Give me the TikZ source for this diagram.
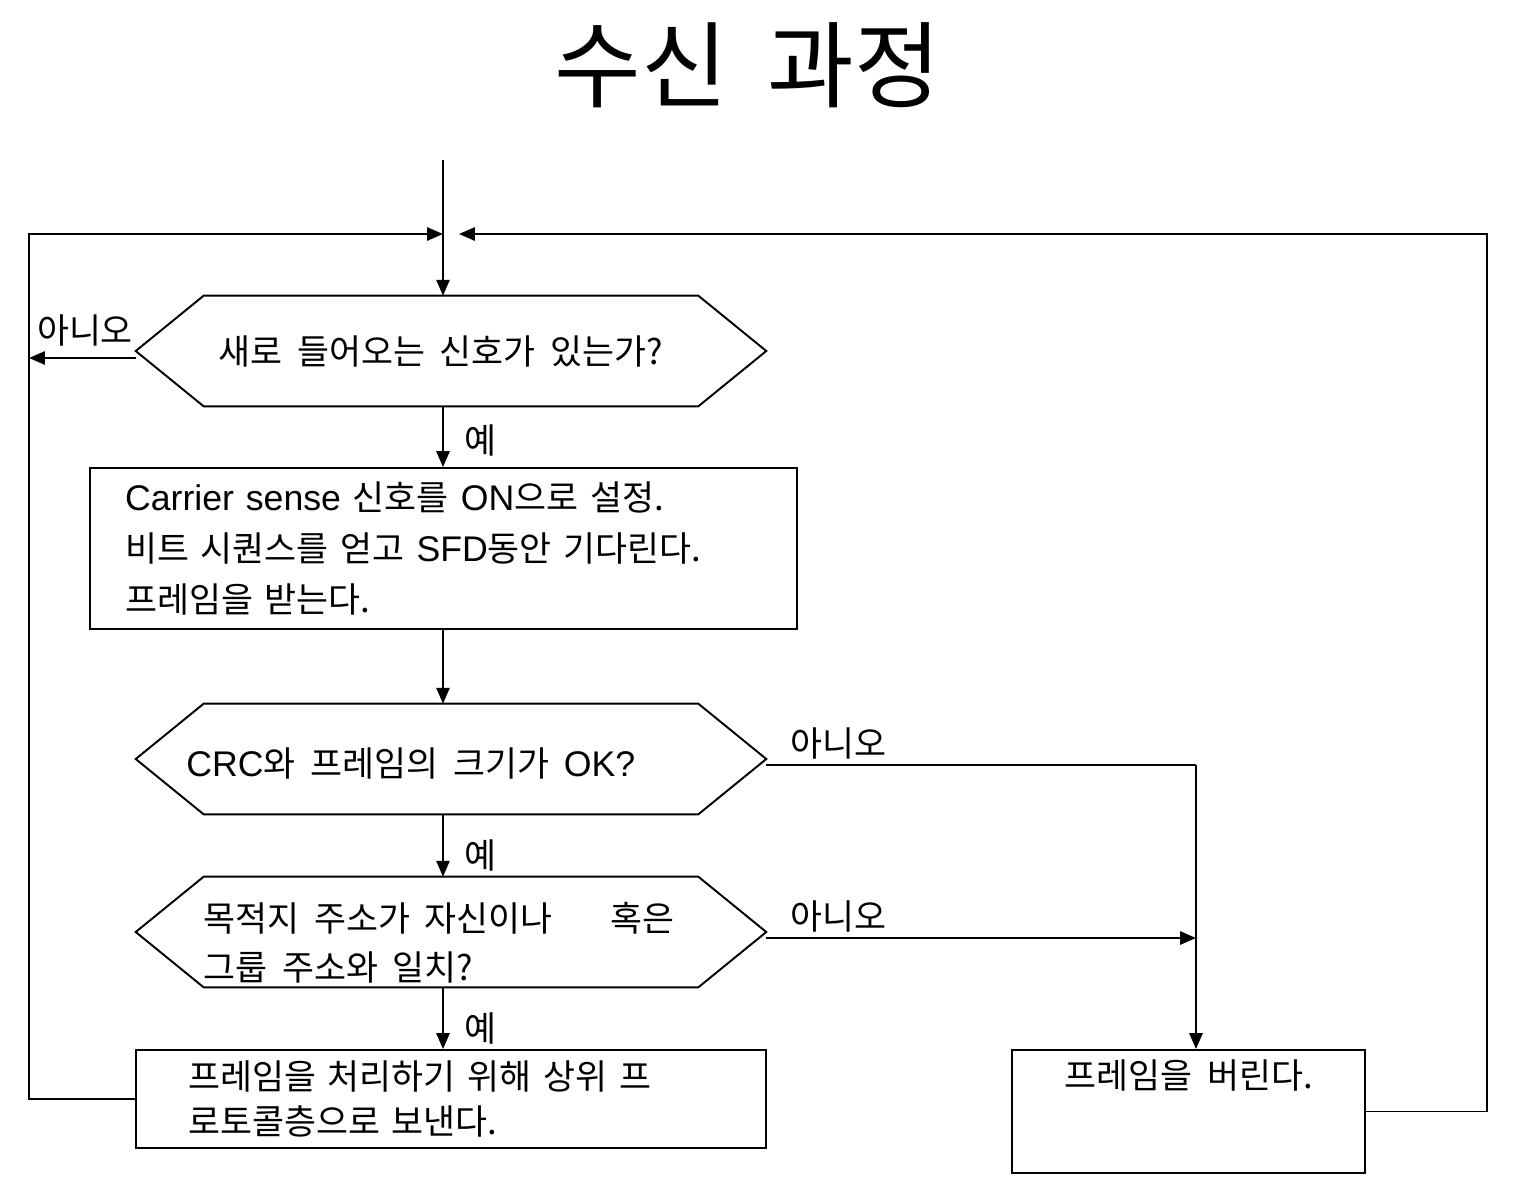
\documentclass[tikz,border=0pt]{standalone}
\usepackage{fontspec}
\setmainfont{Liberation Sans}
\newfontfamily\krf{Noto Sans CJK KR}[Scale=0.975,WordSpace=1.9]
\newcommand{\hg}[1]{{\krf #1}}
\usetikzlibrary{arrows.meta}
\begin{document}
\begin{tikzpicture}[x={(0.02cm,0)},y={(0,-0.02cm)},
  ln/.style={line width=1.1pt},
  arr/.style={line width=1.1pt,-{Triangle[length=9pt,width=7.5pt]}},
  body/.style={font=\fontsize{20.3}{28}\selectfont},
  lbl/.style={font=\fontsize{20.3}{22}\selectfont, inner sep=0},
  hexarea/.style={rectangle, inner sep=0, minimum width=12.6cm, minimum height=2.2cm},
  box/.style={draw, rectangle, line width=1.1pt, body},
  txt/.style={body, anchor=west, inner sep=0, align=left}]
\useasboundingbox (0,0) rectangle (1516,1194);

\node[font=\fontsize{55}{60}\selectfont, inner sep=0] (title) at (748,65) {\hg{수신 과정}};

% named coordinates
\coordinate (start) at (443,160);
\coordinate (spine) at (443,0);
\coordinate (lc) at (29,234);
\coordinate (join) at (443,234);
\coordinate (rc) at (1487,234);
\coordinate (joinR) at (459,234);
\coordinate (lexit) at (29,358);
\coordinate (r2) at (1196,765);
\coordinate (r3) at (1196,938);

% decision areas
\node[hexarea] (h1) at (451,351) {};
\node[hexarea] (h2) at (451,759) {};
\node[hexarea] (h3) at (451,932) {};
\foreach \h in {h1,h2,h3}{
  \draw[ln] ([xshift=1.36cm]\h.north west) -- ([xshift=-1.36cm]\h.north east) -- (\h.east)
    -- ([xshift=-1.36cm]\h.south east) -- ([xshift=1.36cm]\h.south west) -- (\h.west) -- cycle;
}
\node[txt] (t1) at (218,351) {\hg{새로 들어오는 신호가 있는가?}};
\node[txt] (t2) at (186,763) {CRC\hg{와 프레임의 크기가 }OK?};
\node[txt] (t3) at (203,943)
  {\hg{목적지 주소가 자신이나\hspace{1.15cm}혹은}\\\hg{그룹 주소와 일치?}};

% boxes
\node[box, inner xsep=0.7cm, text width=12.74cm, minimum height=3.22cm, align=left,
  font=\fontsize{20.3}{29}\selectfont] (b1) at (443.5,548.5)
  {Carrier sense\hg{ 신호를 }ON\hg{으로 설정.}\\\hg{비트 시퀀스를 얻고 }SFD\hg{동안 기다린다.}\\\hg{프레임을 받는다.}};
\node[box, inner xsep=1.04cm, text width=10.52cm, minimum height=1.96cm, align=left,
  font=\fontsize{20.3}{25.5}\selectfont] (b2) at (451,1099)
  {\hg{프레임을 처리하기 위해 상위 프}\\\hg{로토콜층으로 보낸다.}};
\node[box, inner sep=0, minimum width=7.06cm, minimum height=2.46cm, align=center] (b3) at (1188.5,1111.5)
  {\hg{프레임을 버린다.}\\[0.5cm]};

% labels
\node[lbl] (n1) at (85,330) {\hg{아니오}};
\node[lbl] (n2) at (838,743) {\hg{아니오}};
\node[lbl] (n3) at (838,916) {\hg{아니오}};
\node[lbl] (y1) at (480,440) {\hg{예}};
\node[lbl] (y2) at (480,855) {\hg{예}};
\node[lbl] (y3) at (480,1028) {\hg{예}};

% connectors
\draw[arr] (start) -- (h1.north -| spine);
\draw[arr] (h1.south -| spine) -- (b1.north -| spine);
\draw[arr] (b1.south -| spine) -- (h2.north -| spine);
\draw[arr] (h2.south -| spine) -- (h3.north -| spine);
\draw[arr] (h3.south -| spine) -- (b2.north -| spine);
\draw[arr] (h1.west |- lexit) -- (lexit);
\draw[ln] (h2.east |- r2) -- (r2);
\draw[arr] (r2) -- (b3.north -| r2);
\draw[arr] (h3.east |- r3) -- (r3);
\draw[arr] (b2.west) -| (lc) -- (join);
\draw[arr] (b3.east) -| (rc) -- (joinR);
\end{tikzpicture}
\end{document}
